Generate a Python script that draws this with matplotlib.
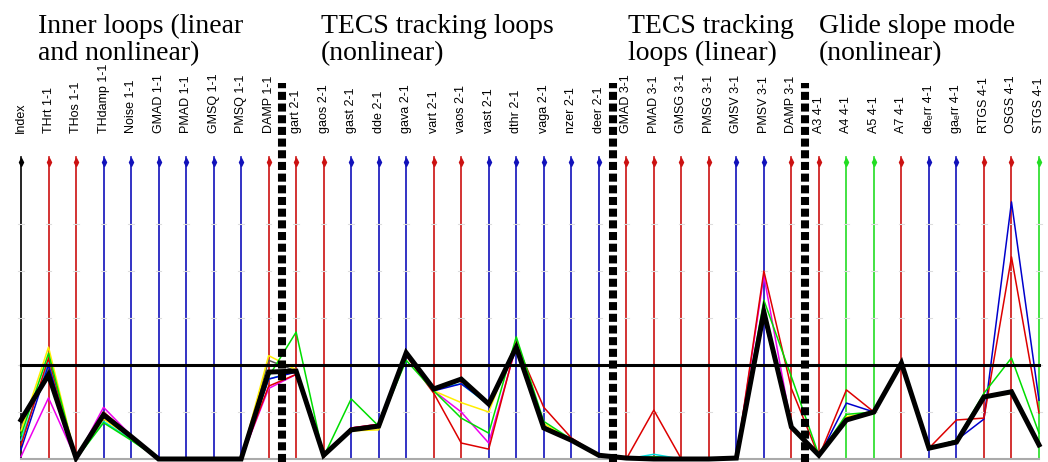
import matplotlib
matplotlib.use("Agg")
import matplotlib.pyplot as plt

# Axis names of the parallel-coordinate display
axis_names = [
    "Index", "THrt 1-1", "THos 1-1", "THdamp 1-1", "Noise 1-1", "GMAD 1-1",
    "PMAD 1-1", "GMSQ 1-1", "PMSQ 1-1", "DAMP 1-1",
    "gart 2-1", "gaos 2-1", "gast 2-1", "dde 2-1", "gava 2-1", "vart 2-1",
    "vaos 2-1", "vast 2-1", "dthr 2-1", "vaga 2-1", "nzer 2-1", "deer 2-1",
    "GMAD 3-1", "PMAD 3-1", "GMSG 3-1", "PMSG 3-1", "GMSV 3-1", "PMSV 3-1",
    "DAMP 3-1",
    "A3 4-1", "A4 4-1", "A5 4-1", "A7 4-1", "de\u2091rr 4-1", "ga\u2091rr 4-1",
    "RTGS 4-1", "OSGS 4-1", "STGS 4-1",
]

# Colour code of every axis
axis_colors = [
    "k", "r", "r", "b", "b", "b", "b", "b", "b", "r",
    "r", "r", "b", "b", "b", "r", "r", "b", "b", "b", "b", "b",
    "r", "r", "r", "r", "b", "b", "r",
    "r", "g", "g", "r", "b", "b", "r", "r", "g",
]

# Group boundaries (between axes) and group titles
group_breaks = [9.5, 21.5, 28.5]
group_titles = [
    "Inner loops (linear\nand nonlinear)",
    "TECS tracking loops\n(nonlinear)",
    "TECS tracking\nloops (linear)",
    "Glide slope mode\n(nonlinear)",
]
group_title_x = [0.6, 10.9, 22.05, 29.0]

threshold = 2.0

# Normalised criteria per case
case_mean = [0.83, 1.79, 0.02, 0.94, 0.48, 0, 0, 0, 0, 1.85,
             1.87, 0.08, 0.62, 0.70, 2.26, 1.49, 1.70, 1.17, 2.38, 0.66, 0.40, 0.08,
             0.02, 0, 0, 0, 0.02, 3.13, 0.68,
             0.08, 0.83, 1.0, 2.04, 0.23, 0.36, 1.32, 1.43, 0.30]
case_red = [0.30, 2.15, 0, 1.0, 0.5, 0, 0, 0, 0, 1.55,
            1.80, 0.05, 0.66, 0.74, 2.20, 1.40, 0.34, 0.21, 2.45, 1.10, 0.45, 0.08,
            0, 1.04, 0, 0, 0, 4.0, 1.5,
            0.05, 1.47, 1.0, 2.04, 0.23, 0.83, 0.87, 4.3, 0.98]
case_blue = [0.20, 2.0, 0, 0.9, 0.45, 0, 0, 0, 0, 1.70,
             1.85, 0.05, 0.66, 0.72, 2.20, 1.45, 1.60, 1.17, 2.40, 0.70, 0.40, 0.08,
             0, 0.05, 0, 0, 0.05, 3.0, 0.7,
             0.05, 1.19, 1.0, 2.04, 0.23, 0.40, 0.85, 5.47, 1.25]
case_green = [0.50, 2.25, 0, 0.77, 0.40, 0, 0, 0, 0, 1.75,
              2.70, 0.05, 1.28, 0.70, 2.10, 1.45, 0.87, 0.55, 2.60, 0.80, 0.42, 0.08,
              0, 0.05, 0, 0, 0.05, 3.38, 1.75,
              0.08, 0.95, 1.0, 2.04, 0.23, 0.40, 1.40, 2.15, 0.55]
case_yellow = [0.60, 2.38, 0, 0.85, 0.45, 0, 0, 0, 0, 2.20,
               1.90, 0.05, 0.60, 0.62, 2.20, 1.45, 1.20, 1.00, 2.50, 0.75, 0.40, 0.08,
               0, 0.02, 0, 0, 0.02, 3.10, 0.70,
               0.08, 0.90, 1.0, 2.04, 0.23, 0.40, 1.30, 1.40, 0.30]
case_cyan = [0.40, 2.05, 0, 0.80, 0.42, 0, 0, 0, 0, 1.70,
             1.87, 0.05, 0.64, 0.70, 2.25, 1.49, 1.60, 1.15, 2.45, 0.70, 0.40, 0.08,
             0, 0.10, 0, 0, 0, 3.10, 0.70,
             0.08, 0.85, 1.0, 2.04, 0.23, 0.36, 1.30, 1.45, 0.30]
case_magenta = [0.05, 1.30, 0, 1.10, 0.50, 0, 0, 0, 0, 1.50,
                1.80, 0.05, 0.66, 0.74, 2.20, 1.45, 1.00, 0.34, 2.40, 0.70, 0.40, 0.08,
                0, 0.05, 0, 0, 0, 3.90, 0.70,
                0.05, 0.85, 1.0, 2.04, 0.23, 0.36, 1.30, 1.45, 0.30]
case_gray = [0.70, 1.90, 0, 0.92, 0.46, 0, 0, 0, 0, 2.10,
             1.87, 0.08, 0.62, 0.70, 2.26, 1.49, 1.70, 1.17, 2.38, 0.66, 0.40, 0.08,
             0.02, 0, 0, 0, 0.02, 3.13, 0.68,
             0.08, 0.83, 1.0, 2.04, 0.23, 0.36, 1.32, 1.43, 0.30]

thin_cases = [
    (case_gray, "#555555"),
    (case_magenta, "#ee00ee"),
    (case_cyan, "#00dddd"),
    (case_yellow, "#ffee00"),
    (case_blue, "#0000cc"),
    (case_red, "#dd0000"),
    (case_green, "#00dd00"),
]

W, H = 1048, 462
fig = plt.figure(figsize=(W / 100, H / 100), dpi=100)
fig.patch.set_facecolor("white")

x_left, x_right = 21, 1039      # pixel columns of first/last axis
y_bottom, y_top = 459, 162      # pixel rows of value 0 and axis top
unit = 47.0                     # pixels per unit
ymax = (y_bottom - y_top) / unit
ax = fig.add_axes([x_left / W, (H - y_bottom) / H,
                   (x_right - x_left) / W, (y_bottom - y_top) / H])
n = len(axis_names)
ax.set_xlim(0, n - 1)
ax.set_ylim(0, ymax)
ax.axis("off")

xs = list(range(n))
color_map = {"k": "black", "r": "#cc1111", "b": "#1111bb", "g": "#22dd22"}

# Vertical axes with top markers and faint ticks
for i, c in enumerate(axis_colors):
    col = color_map[c]
    ax.plot([i, i], [0, ymax + 0.1], color=col, lw=1.2, clip_on=False, zorder=1)
    ax.plot([i], [ymax], marker="d", ms=4, color=col, clip_on=False, zorder=2)
    for t in range(1, 6):
        ax.plot([i - 0.1, i + 0.1], [t, t], color="#dddddd", lw=0.8,
                clip_on=False, zorder=1)

# Baseline
ax.plot([0, n - 1], [0, 0], color="#aaaaaa", lw=1.5, clip_on=False, zorder=1)

# Individual cases
for vals, col in thin_cases:
    ax.plot(xs, vals, color=col, lw=1.1, clip_on=False, zorder=3)

# Threshold line
ax.plot([0, n - 1], [threshold, threshold], color="black", lw=2.2,
        clip_on=False, zorder=4)

# Mean case
ax.plot(xs, case_mean, color="black", lw=3.6, clip_on=False, zorder=5,
        solid_joinstyle="miter")

# Group separators
for b in group_breaks:
    ax.plot([b, b], [-0.07, (y_bottom - 83) / unit], color="black", lw=5.8,
            dashes=(1.0, 0.45), dash_capstyle="butt", clip_on=False, zorder=6)

# Axis labels
label_y = (y_bottom - 133) / unit
for i, name in enumerate(axis_names):
    ax.text(i, label_y, name, rotation=90, ha="center", va="bottom",
            fontsize=9, family=["Liberation Sans", "DejaVu Sans"],
            clip_on=False)

# Group titles
title_y = (y_bottom - 14) / unit
for gx, title in zip(group_title_x, group_titles):
    ax.text(gx, title_y, title, ha="left", va="top", fontsize=20,
            family=["Liberation Serif", "DejaVu Serif"], linespacing=1.12,
            clip_on=False)

fig.savefig("out.png", dpi=100, facecolor="white")
